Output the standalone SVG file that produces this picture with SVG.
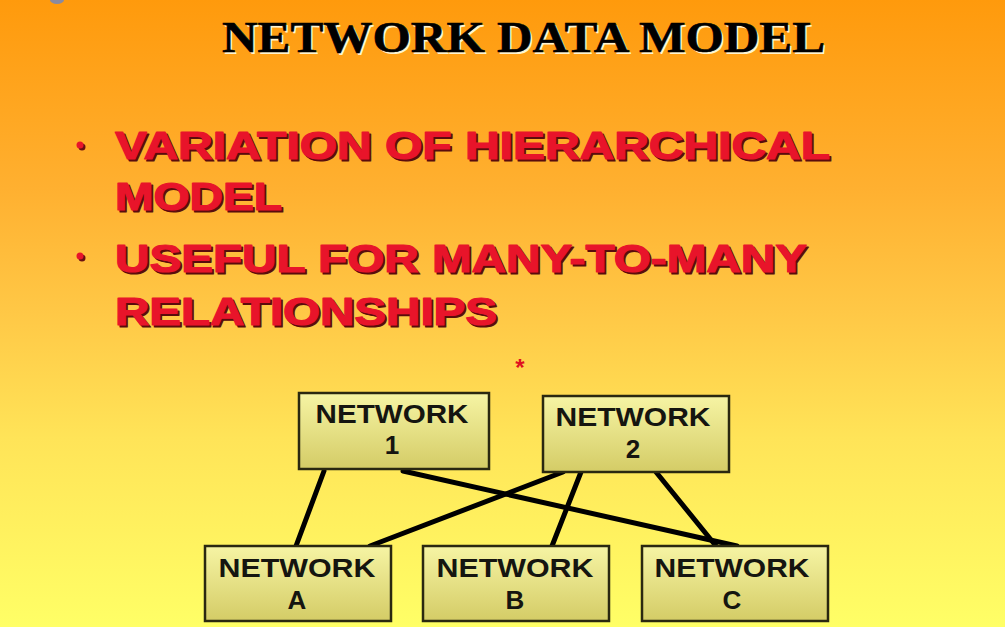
<svg xmlns="http://www.w3.org/2000/svg" width="1005" height="627" viewBox="0 0 1005 627">
<defs>
<linearGradient id="bg" x1="0" y1="0" x2="0" y2="1">
<stop offset="0" stop-color="#ff9a0c"/>
<stop offset="0.3" stop-color="#ffb030"/>
<stop offset="0.5" stop-color="#ffc846"/>
<stop offset="0.7" stop-color="#ffe458"/>
<stop offset="1" stop-color="#ffff66"/>
</linearGradient>
<linearGradient id="box" x1="0" y1="0" x2="0" y2="1">
<stop offset="0" stop-color="#f6f4a4"/>
<stop offset="1" stop-color="#d4cc66"/>
</linearGradient>
</defs>
<style>
.title{font-family:"Liberation Serif","Times New Roman",serif;font-weight:bold;font-size:45px}
.bul{font-family:"Liberation Sans",Arial,sans-serif;font-weight:bold;font-size:39px;stroke-width:1.2;stroke-linejoin:round}
.node rect{fill:url(#box);stroke:#2a2810;stroke-width:2.5}
.node text{font-family:"Liberation Sans",Arial,sans-serif;font-weight:bold;font-size:26px;fill:#151510;text-anchor:middle}
.conn line{stroke:#000;stroke-width:5;stroke-linecap:round}
</style>
<rect x="0" y="0" width="1005" height="627" fill="url(#bg)"/>
<ellipse cx="57" cy="0" rx="7" ry="4" fill="#8a8aa0"/>
<g id="title">
<text class="title" x="224" y="54" fill="#fff4d0" textLength="603" lengthAdjust="spacingAndGlyphs">NETWORK DATA MODEL</text>
<text class="title" x="222" y="52" fill="#000" stroke="#000" stroke-width="0.6" textLength="603" lengthAdjust="spacingAndGlyphs">NETWORK DATA MODEL</text>
</g>
<g id="bullets">
<circle cx="82" cy="147" r="3.5" fill="#6a1010"/>
<circle cx="80" cy="145" r="3.5" fill="#e8142a"/>
<circle cx="82" cy="258" r="3.5" fill="#6a1010"/>
<circle cx="80" cy="256" r="3.5" fill="#e8142a"/>
<g fill="#5a0c0c" stroke="#5a0c0c">
<text class="bul" x="117" y="161" textLength="715" lengthAdjust="spacingAndGlyphs">VARIATION OF HIERARCHICAL</text>
<text class="bul" x="117" y="212" textLength="167" lengthAdjust="spacingAndGlyphs">MODEL</text>
<text class="bul" x="117" y="274" textLength="692" lengthAdjust="spacingAndGlyphs">USEFUL FOR MANY-TO-MANY</text>
<text class="bul" x="117" y="327" textLength="382" lengthAdjust="spacingAndGlyphs">RELATIONSHIPS</text>
</g>
<g fill="#e8142a" stroke="#e8142a">
<text class="bul" x="115" y="159" textLength="715" lengthAdjust="spacingAndGlyphs">VARIATION OF HIERARCHICAL</text>
<text class="bul" x="115" y="210" textLength="167" lengthAdjust="spacingAndGlyphs">MODEL</text>
<text class="bul" x="115" y="272" textLength="692" lengthAdjust="spacingAndGlyphs">USEFUL FOR MANY-TO-MANY</text>
<text class="bul" x="115" y="325" textLength="382" lengthAdjust="spacingAndGlyphs">RELATIONSHIPS</text>
</g>
</g>
<text x="520" y="376" font-family="Liberation Sans, Arial, sans-serif" font-weight="bold" font-size="24" fill="#e01020" text-anchor="middle">*</text>
<g id="connectors" class="conn">
<line x1="324" y1="471" x2="296" y2="546"/>
<line x1="403" y1="471" x2="737" y2="546"/>
<line x1="563" y1="472" x2="370" y2="546"/>
<line x1="581" y1="472" x2="552" y2="546"/>
<line x1="656" y1="472" x2="716" y2="546"/>
</g>
<g id="node-1" class="node">
<rect x="299" y="393" width="190" height="76"/>
<text x="392" y="423" textLength="153" lengthAdjust="spacingAndGlyphs">NETWORK</text>
<text x="392" y="454">1</text>
</g>
<g id="node-2" class="node">
<rect x="543" y="396" width="186" height="76"/>
<text x="633" y="426" textLength="155" lengthAdjust="spacingAndGlyphs">NETWORK</text>
<text x="633" y="458">2</text>
</g>
<g id="node-a" class="node">
<rect x="205" y="546" width="186" height="75"/>
<text x="297" y="577" textLength="157" lengthAdjust="spacingAndGlyphs">NETWORK</text>
<text x="297" y="609">A</text>
</g>
<g id="node-b" class="node">
<rect x="423" y="546" width="186" height="75"/>
<text x="515" y="577" textLength="157" lengthAdjust="spacingAndGlyphs">NETWORK</text>
<text x="515" y="609">B</text>
</g>
<g id="node-c" class="node">
<rect x="642" y="546" width="186" height="75"/>
<text x="732" y="577" textLength="155" lengthAdjust="spacingAndGlyphs">NETWORK</text>
<text x="732" y="609">C</text>
</g>
</svg>
